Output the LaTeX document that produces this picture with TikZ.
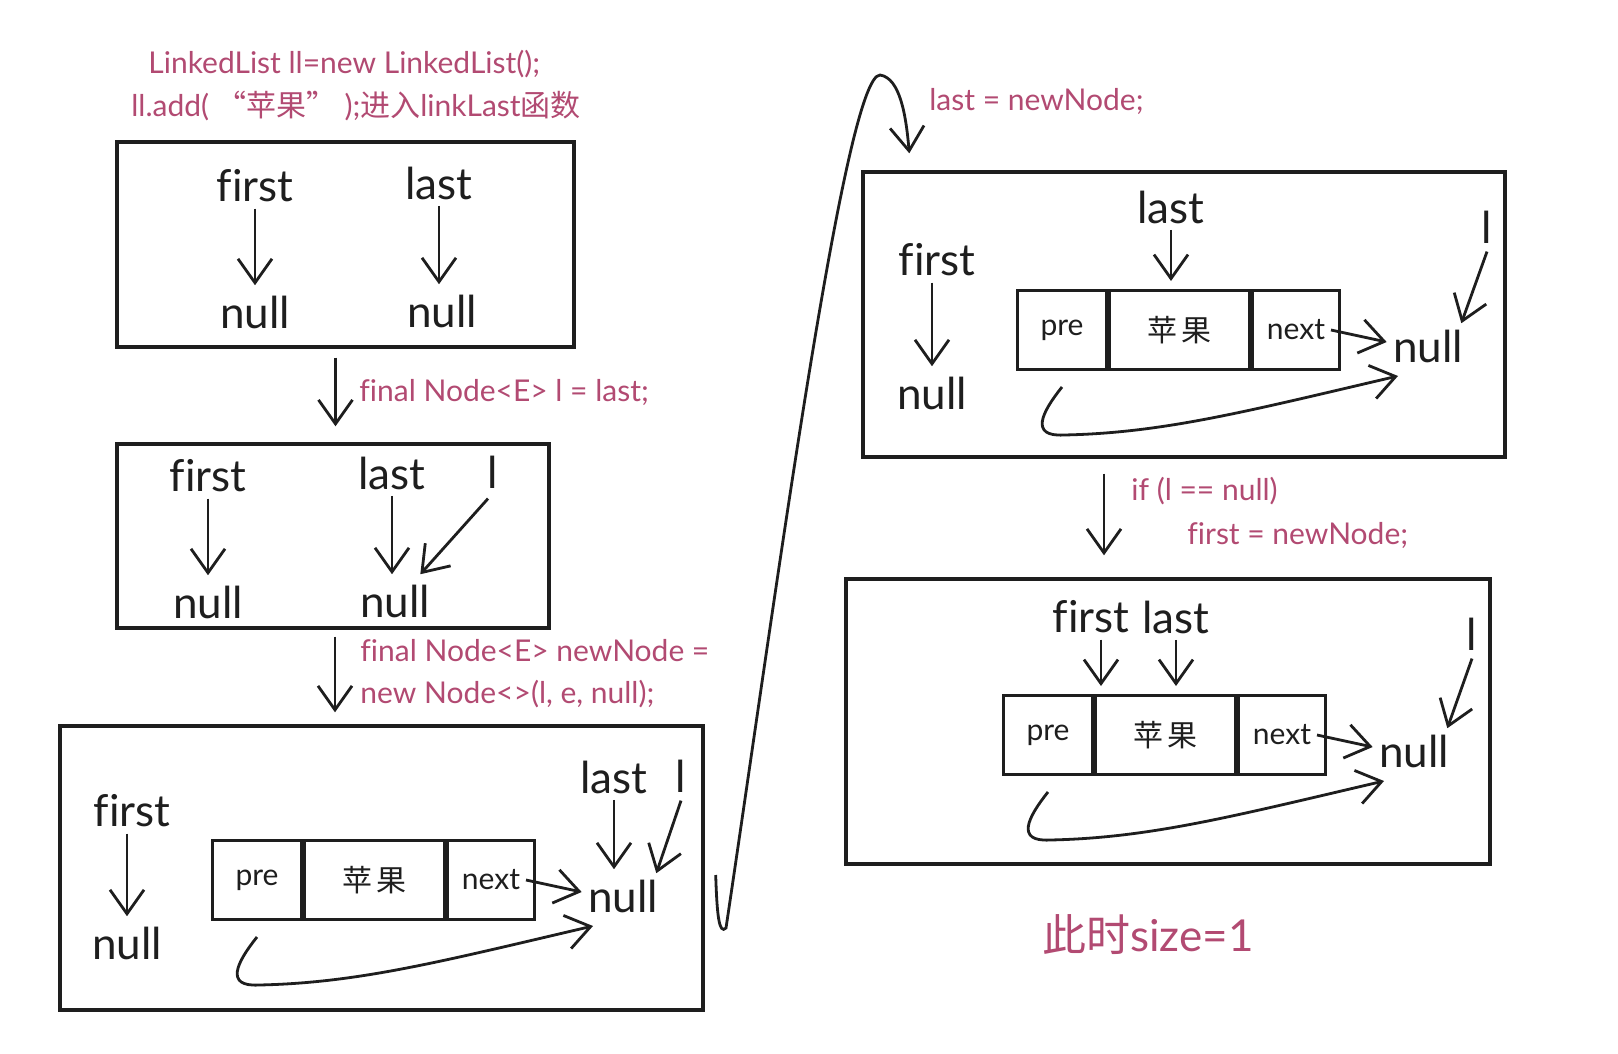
\documentclass[tikz,border=0pt]{standalone}
\usepackage{fontspec}
\setmainfont{Lato}[Ligatures=NoCommon]
\newfontfamily\cjk{Noto Sans CJK SC}
\usetikzlibrary{arrows.meta,calc,fit}
\definecolor{ink}{HTML}{1E1E1E}
\definecolor{code}{HTML}{B24A72}
\tikzset{
 box/.style={draw=ink, line width=1.7pt, inner sep=0pt},
 arr/.style={draw=ink, line width=1.4pt, -{Straight Barb[length=12pt,width=17pt]}},
 vert/.style={arr, shorten >=4pt, shorten <=2pt},
 lbl/.style={text=ink, font=\fontsize{22}{26}\selectfont, inner sep=1pt},
 cell/.style={draw=ink, line width=1.5pt, minimum height=39.5pt, inner sep=0pt, text=ink, font=\fontsize{15}{18}\selectfont},
 codetxt/.style={text=code, font=\fontsize{15}{18}\selectfont, inner sep=0pt, anchor=west},
}
\newcommand\mklist[3]{%
 \node[cell, minimum width=44.5pt, anchor=north west] (#1c1) at (#2,#3) {pre};
 \node[cell, minimum width=70pt, anchor=north west] (#1c2) at (#1c1.north east) {\cjk 苹\,果};
 \node[cell, minimum width=43.5pt, anchor=north west] (#1c3) at (#1c2.north east) {next};
 \node[lbl] (#1null) at ($(#2,#3)+(412,57)$) {null};
 \draw[arr] ($(#1c3.east)+(-10,0)$) -- ($(#1null.west)+(-4,-4)$);
 \draw[arr] ($(#1c1.south)+(0,16)$) .. controls +(-20,25) and +(-35,2) .. ($(#1c1.south)+(2,64)$)
   .. controls +(100,-2) and +(-150,35) .. ($(#1null)+(-30,30)$);
}
\begin{document}
\begin{tikzpicture}[x=0.5pt,y=-0.5pt]
\fill[white] (0,0) rectangle (1618,1054);
\useasboundingbox (0,0) rectangle (1618,1054);

% top code
\node[codetxt] (t1) at (148,64) {LinkedList ll=new LinkedList();};
\node[codetxt] (t2) at (131,106) {ll.add( {\cjk “苹果”} );{\cjk 进入}linkLast{\cjk 函数}};

% boxes
\coordinate (b1a) at (117,142); \coordinate (b1b) at (574,347);
\node[box, fit=(b1a)(b1b)] (B1) {};
\coordinate (b2a) at (117,444); \coordinate (b2b) at (549,628);
\node[box, fit=(b2a)(b2b)] (B2) {};
\coordinate (b3a) at (60,726); \coordinate (b3b) at (703,1010);
\node[box, fit=(b3a)(b3b)] (B3) {};
\coordinate (b4a) at (863,172); \coordinate (b4b) at (1505,457);
\node[box, fit=(b4a)(b4b)] (B4) {};
\coordinate (b5a) at (846,579); \coordinate (b5b) at (1490,864);
\node[box, fit=(b5a)(b5b)] (B5) {};

% box 1
\node[lbl] (b1f) at (255,186) {first};
\node[lbl] (b1fn) at (255,312) {null};
\node[lbl] (b1l) at (439,183) {last};
\node[lbl] (b1ln) at (442,311) {null};
\draw[vert] (b1f.south) -- (b1fn.north);
\draw[vert] (b1l.south) -- (b1l.south |- b1ln.north);

% arrow 1
\draw[arr] ($(B1.south)+(-10,9)$) -- ($(B1.south |- B2.north)+(-10,-16)$);
\node[codetxt] (c1) at (359,392) {final Node<E> l = last;};

% box 2
\node[lbl] (b2f) at (208,476) {first};
\node[lbl] (b2fn) at (208,602) {null};
\node[lbl] (b2l) at (392,473) {last};
\node[lbl] (b2ln) at (395,601) {null};
\node[lbl] (b2ll) at (493,472) {l};
\draw[vert] (b2f.south) -- (b2fn.north);
\draw[vert] (b2l.south) -- (b2l.south |- b2ln.north);
\draw[arr] ($(b2ll.south)+(-5,8)$) -- ($(b2ln.north east)+(-12,-8)$);

% arrow 2
\draw[arr] ($(B2.south)+(2,7)$) -- ($(B2.south |- B3.north)+(2,-12)$);
\node[codetxt] (c2) at (360,651) {final Node<E> newNode =};
\node[codetxt] (c3) at (360,694) {new Node<>(l, e, null);};

% box 3
\node[lbl] (b3f) at (132,811) {first};
\node[lbl] (b3fn) at (127,943) {null};
\draw[vert] (b3f.south -| b3fn.north) -- (b3fn.north);
\mklist{b3}{211}{839}
\node[lbl] (b3last) at (614,777) {last};
\node[lbl] (b3l) at (681,776) {l};
\draw[vert] (b3last.south) -- (b3last.south |- b3null.north);
\draw[arr] ($(b3l.south)+(0,6)$) -- ($(b3null.north east)+(-4,-4)$);

% big S-curve to box 4
\draw[arr] ($(B3.east)+(11,7)$) .. controls (717,915) and (719,935) .. (726,928)
  .. controls (775,600) and (845,75) .. (880,75)
  .. controls (900,78) and (906,115) .. ($(B4.north west)+(48,-17)$);
\node[codetxt] (c4) at (929,101) {last = newNode;};

% box 4
\node[lbl] (b4f) at (937,260) {first};
\node[lbl] (b4fn) at (932,393) {null};
\draw[vert] (b4f.south -| b4fn.north) -- (b4fn.north);
\mklist{b4}{1016}{289}
\node[lbl] (b4last) at (1171,207) {last};
\node[lbl] (b4l) at (1487,227) {l};
\draw[vert] (b4last.south) -- (b4last.south |- b4c2.north);
\draw[arr] ($(b4l.south)+(0,6)$) -- ($(b4null.north east)+(-4,-4)$);

% arrow 3
\draw[arr] ($(B4.south)+(-80,15)$) -- ($(B4.south |- B5.north)+(-80,-22)$);
\node[codetxt] (c5) at (1131,491) {if (l == null)};
\node[codetxt] (c6) at (1187,535) {first = newNode;};

% box 5
\node[lbl] (b5first) at (1091,617) {first};
\node[lbl] (b5last) at (1176,617) {last};
\mklist{b5}{1002}{694}
\draw[vert] ($(b5first.south)+(10,0)$) -- ($(b5first.south |- b5c2.north)+(10,0)$);
\draw[vert] (b5last.south) -- (b5last.south |- b5c2.north);
\node[lbl] (b5l) at (1472,634) {l};
\draw[arr] ($(b5l.south)+(0,6)$) -- ($(b5null.north east)+(-4,-4)$);

% size note
\node[text=code, font=\fontsize{22}{26}\selectfont, inner sep=0pt] (sz) at (1148,935) {{\cjk 此时}size=1};
\end{tikzpicture}
\end{document}
